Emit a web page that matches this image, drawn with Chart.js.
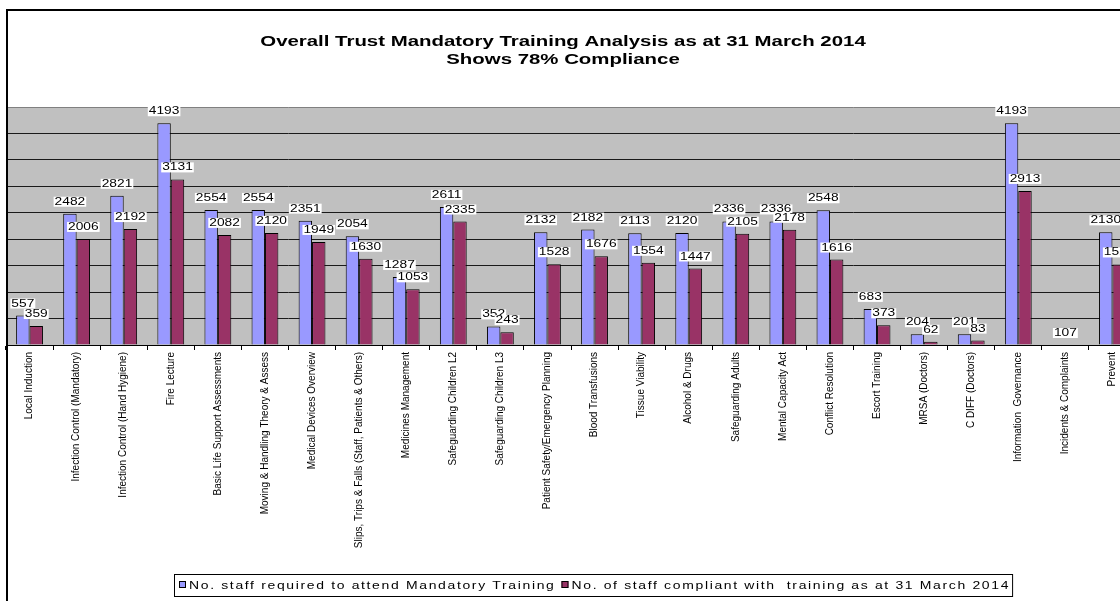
<!DOCTYPE html>
<html>
<head>
<meta charset="utf-8">
<script src="https://cdn.jsdelivr.net/npm/chart.js@4.4.1/dist/chart.umd.min.js"></script>
<style>
  html, body { margin:0; padding:0; background:#fff; overflow:hidden; }
  #wrap { width:1140px; height:601px; }
</style>
</head>
<body>
<div id="wrap"><canvas id="chart" width="1140" height="601"></canvas></div>
<script>
const titleLines = ['Overall Trust Mandatory Training Analysis as at 31 March 2014', 'Shows 78% Compliance'];

const courses = [
  'Local Induction', 'Infection Control (Mandatory)', 'Infection Control (Hand Hygiene)', 'Fire Lecture',
  'Basic Life Support Assessments', 'Moving & Handling Theory & Assess', 'Medical Devices Overview',
  'Slips, Trips & Falls (Staff, Patients & Others)', 'Medicines Management', 'Safeguarding Children L2',
  'Safeguarding Children L3', 'Patient Safety/Emergency Planning', 'Blood Transfusions', 'Tissue Viability',
  'Alcohol & Drugs', 'Safeguarding Adults', 'Mental Capacity Act', 'Conflict Resolution', 'Escort Training',
  'MRSA (Doctors)', 'C DIFF (Doctors)', 'Information  Governance', 'Incidents & Complaints', 'Prevent'
];

const staffRequired = [557, 2482, 2821, 4193, 2554, 2554, 2351, 2054, 1287, 2611, 352, 2132, 2182, 2113,
  2120, 2336, 2336, 2548, 683, 204, 201, 4193, null, 2130];
const staffCompliant = [359, 2006, 2192, 3131, 2082, 2120, 1949, 1630, 1053, 2335, 243, 1528, 1676, 1554,
  1447, 2105, 2178, 1616, 373, 62, 83, 2913, null, 1523];

// label shown on a category that has no bars
const noteLabels = [{ course: 'Incidents & Complaints', text: '107' }];

const seriesNames = ['No. staff required to attend Mandatory Training', 'No. of staff compliant with  training as at 31 March 2014'];
const yMin = 0, yMax = 4500, yStep = 500;

// the original picture is stretched sideways, so text is drawn wider than normal
function wideText(ctx, text, x, y, sx, align) {
  ctx.save();
  ctx.translate(x, y);
  ctx.scale(sx, 1);
  ctx.textAlign = align || 'center';
  ctx.textBaseline = 'middle';
  ctx.fillText(text, 0, 0);
  ctx.restore();
}

const plotBg = {
  id: 'plotBg',
  beforeDraw(chart) {
    const a = chart.chartArea, ctx = chart.ctx;
    ctx.save();
    ctx.fillStyle = '#C0C0C0';
    ctx.fillRect(a.left, a.top, a.right - a.left, a.bottom - a.top);
    ctx.restore();
  }
};

const valueLabels = {
  id: 'valueLabels',
  afterDatasetsDraw(chart) {
    const ctx = chart.ctx, sx = 1.25;
    ctx.save();
    ctx.font = '11px "Liberation Sans", Arial, sans-serif';
    const put = (text, x, y) => {
      const w = ctx.measureText(text).width * sx;
      ctx.fillStyle = '#fff';
      ctx.fillRect(x - w / 2 - 1, y - 5, w + 2, 10);
      ctx.fillStyle = '#000';
      wideText(ctx, text, x, y, sx);
    };
    chart.data.datasets.forEach((ds, i) => {
      chart.getDatasetMeta(i).data.forEach((bar, j) => {
        if (ds.data[j] == null) return;
        put(String(ds.data[j]), bar.x, bar.y - 12);
      });
    });
    const xs = chart.scales.x, ys = chart.scales.y;
    noteLabels.forEach(n => {
      put(n.text, xs.getPixelForValue(courses.indexOf(n.course)), ys.getPixelForValue(0) - 12);
    });
    ctx.restore();
  }
};

const frame = {
  id: 'frame',
  afterDraw(chart) {
    const ctx = chart.ctx;
    ctx.save();
    // chart title
    ctx.fillStyle = '#000';
    ctx.font = 'bold 15px "Liberation Sans", Arial, sans-serif';
    titleLines.forEach((t, i) => wideText(ctx, t, 563, 42 + i * 18, 1.36));

    // legend in a bordered box
    const sx = 1.27;
    ctx.font = '11px "Liberation Sans", Arial, sans-serif';
    ctx.letterSpacing = '1.3px';
    const widths = seriesNames.map(t => ctx.measureText(t).width * sx);
    const box = 7, gap = 3, itemGap = 6;
    const total = box + gap + widths[0] + itemGap + box + gap + widths[1];
    let x = Math.round(595 - total / 2);
    const yMid = 585;
    ctx.strokeStyle = '#000';
    ctx.lineWidth = 1;
    ctx.strokeRect(x - 4.5, 574.5, total + 7, 22);
    chart.data.datasets.forEach((ds, i) => {
      ctx.fillStyle = ds.backgroundColor;
      ctx.fillRect(x, yMid - 4, box, box);
      ctx.strokeRect(x + 0.5, yMid - 3.5, box - 1, box - 1);
      x += box + gap;
      ctx.fillStyle = '#000';
      wideText(ctx, seriesNames[i], x, yMid + 1, sx, 'left');
      x += widths[i] + itemGap;
    });
    ctx.letterSpacing = '0px';

    // outer chart border
    ctx.lineWidth = 2;
    ctx.strokeRect(7, 10, 1400, 800);
    ctx.restore();
  }
};

new Chart(document.getElementById('chart'), {
  type: 'bar',
  data: {
    labels: courses,
    datasets: [
      { label: seriesNames[0], data: staffRequired, backgroundColor: '#9999FF', borderColor: '#000', borderWidth: 1,
        categoryPercentage: 0.57, barPercentage: 1 },
      { label: seriesNames[1], data: staffCompliant, backgroundColor: '#993366', borderColor: '#000', borderWidth: 1,
        categoryPercentage: 0.57, barPercentage: 1 }
    ]
  },
  options: {
    responsive: false,
    animation: false,
    devicePixelRatio: 1,
    layout: { padding: { top: 107, left: 6, right: 4, bottom: 36 } },
    plugins: { legend: { display: false }, title: { display: false }, tooltip: { enabled: false } },
    scales: {
      x: {
        grid: { display: true, drawOnChartArea: false, drawTicks: true, tickLength: 5, color: '#000' },
        border: { display: true, color: '#000', width: 1 },
        ticks: {
          autoSkip: false, maxRotation: 90, minRotation: 90, padding: 2, color: '#000',
          font: { family: '"Liberation Sans", Arial, sans-serif', size: 10 }
        },
        afterFit(s) { s.height = 220; }
      },
      y: {
        min: yMin, max: yMax,
        ticks: { display: false, stepSize: yStep },
        grid: { drawTicks: false, lineWidth: 1, color: c => c.tick && c.tick.value === yMax ? '#808080' : '#1a1a1a' },
        border: { display: false },
        afterFit(s) { s.width = 0; }
      }
    }
  },
  plugins: [plotBg, valueLabels, frame]
});
</script>
</body>
</html>
